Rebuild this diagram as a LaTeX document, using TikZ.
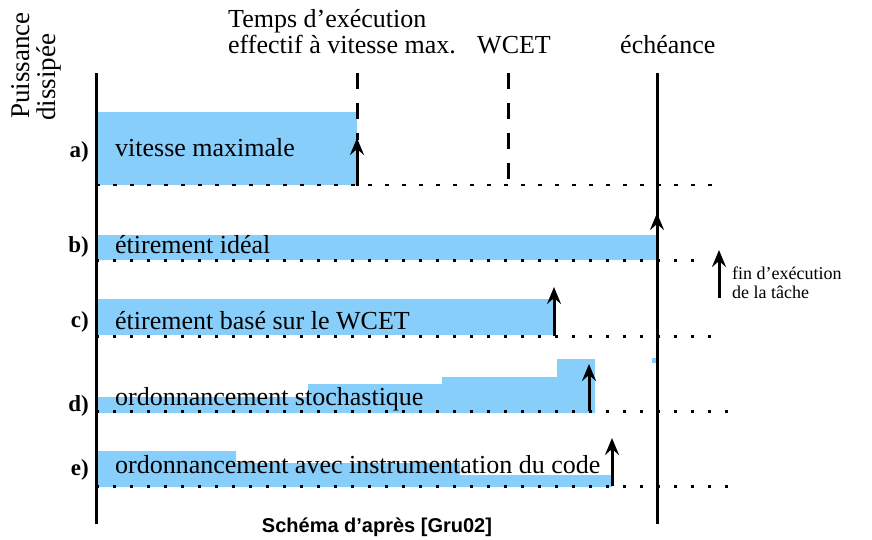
\documentclass[tikz,border=0pt]{standalone}
\usepackage{fontspec}
\setmainfont{Liberation Serif}
\newfontfamily\capfont{Liberation Sans}
\usetikzlibrary{arrows.meta}
\definecolor{barblue}{RGB}{135,206,250}
\begin{document}
\begin{tikzpicture}[x=1pt,y=1pt,
  >={Stealth[length=17pt,width=14pt,inset=6pt]},
  lbl/.style={anchor=base west,inner sep=0pt,font=\fontsize{26}{28}\selectfont},
  rowlbl/.style={anchor=base east,inner sep=0pt,font=\fontsize{23}{24}\selectfont\bfseries},
  smalllbl/.style={anchor=base west,inner sep=0pt,font=\fontsize{18}{19}\selectfont},
  bar/.style={fill=barblue,draw=none},
  axisline/.style={line width=3pt},
  wcetline/.style={line width=3pt,dash pattern=on 16pt off 14pt},
  dotline/.style={line width=3pt,dash pattern=on 3pt off 14pt},
  endarrow/.style={line width=3pt,->},
]
\useasboundingbox (0,0) rectangle (872,-539);

% blue bars
\fill[bar] (96,-112) rectangle (357,-185);
\fill[bar] (96,-235) rectangle (657,-260);
\fill[bar] (96,-299) rectangle (553,-335);
\fill[bar] (96,-413) -- (96,-397) -- (308,-397) -- (308,-384) -- (442,-384) -- (442,-377)
  -- (557,-377) -- (557,-359) -- (595,-359) -- (595,-413) -- cycle;
\fill[bar] (652,-358) rectangle (656,-363);
\fill[bar] (96,-487) -- (96,-451) -- (236,-451) -- (236,-463) -- (460,-463) -- (460,-475)
  -- (612,-475) -- (612,-487) -- cycle;

% coordinates
\coordinate (axtop) at (96,-73);
\coordinate (axbot) at (96,-524);
\coordinate (dltop) at (657,-73);
\coordinate (dlbot) at (657,-524);
\coordinate (vmtop) at (357,-73);
\coordinate (vmbot) at (357,-140);
\coordinate (wctop) at (508,-73);
\coordinate (wcbot) at (508,-180);

\coordinate (ra0) at (96,-185);  \coordinate (ra1) at (723,-185);
\coordinate (rb0) at (96,-260);  \coordinate (rb1) at (708,-260);
\coordinate (rc0) at (96,-336);  \coordinate (rc1) at (722,-336);
\coordinate (rd0) at (96,-411);  \coordinate (rd1) at (736,-411);
\coordinate (re0) at (96,-486);  \coordinate (re1) at (736,-486);

% dotted baselines
\draw[dotline,line width=2pt,dash pattern=on 4pt off 13pt] (ra0) -- (ra1);
\draw[dotline] (rb0) -- (rb1);
\draw[dotline] (rc0) -- (rc1);
\draw[dotline] (rd0) -- (rd1);
\draw[dotline] (re0) -- (re1);

% vertical lines
\draw[axisline] (axtop) -- (axbot);
\draw[axisline] (dltop) -- (dlbot);
\draw[wcetline] (vmtop) -- (vmbot);
\draw[wcetline] (wctop) -- (wcbot);

% end-of-execution arrows
\coordinate (aa0) at (357,-186); \coordinate (aa1) at (357,-138);
\coordinate (ab0) at (657,-260); \coordinate (ab1) at (657,-213);
\coordinate (ac0) at (554,-336); \coordinate (ac1) at (554,-287);
\coordinate (ad0) at (589,-411); \coordinate (ad1) at (589,-364);
\coordinate (ae0) at (612,-486); \coordinate (ae1) at (612,-438);
\coordinate (af0) at (719,-298); \coordinate (af1) at (719,-250);
\draw[endarrow] (aa0) -- (aa1);
\draw[endarrow] (ab0) -- (ab1);
\draw[endarrow] (ac0) -- (ac1);
\draw[endarrow] (ad0) -- (ad1);
\draw[endarrow] (ae0) -- (ae1);
\draw[endarrow] (af0) -- (af1);

% texts
\node[rotate=90,anchor=base west,inner sep=0pt,font=\fontsize{27}{29}\selectfont] (ylab1) at (29,-119) {Puissance};
\node[rotate=90,anchor=base west,inner sep=0pt,font=\fontsize{27}{29}\selectfont] (ylab2) at (55,-121) {dissipée};
\node[lbl] (ttemps1) at (228,-27) {Temps d’exécution};
\node[lbl] (ttemps2) at (228,-53) {effectif à vitesse max.};
\node[lbl] (twcet) at (477,-53) {WCET};
\node[lbl] (tech) at (620,-53) {échéance};
\node[smalllbl] (tfin1) at (732,-279) {fin d’exécution};
\node[smalllbl] (tfin2) at (732,-298) {de la tâche};

\node[rowlbl] (la) at (89,-157) {a)};
\node[rowlbl] (lb) at (89,-252) {b)};
\node[rowlbl] (lc) at (89,-327) {c)};
\node[rowlbl] (ld) at (89,-411) {d)};
\node[rowlbl] (le) at (89,-475) {e)};

\node[lbl] (ta) at (115,-156) {vitesse maximale};
\node[lbl] (tb) at (115,-253) {étirement idéal};
\node[lbl] (tc) at (115,-329) {étirement basé sur le WCET};
\node[lbl] (td) at (115,-405) {ordonnancement stochastique};
\node[lbl] (te) at (115,-473) {ordonnancement avec instrumentation du code};

\node[anchor=base,inner sep=0pt,font=\capfont\bfseries\fontsize{20}{22}\selectfont] (cap) at (377,-532) {Schéma d’après [Gru02]};
\end{tikzpicture}
\end{document}
